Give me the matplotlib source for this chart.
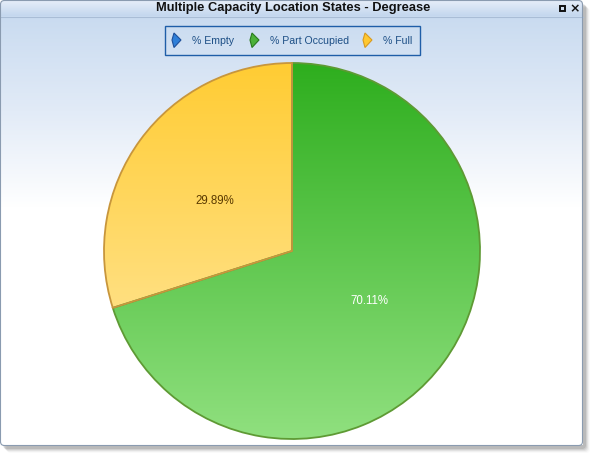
import matplotlib
matplotlib.use("Agg")
import numpy as np
import matplotlib.pyplot as plt
from matplotlib.patches import Rectangle, FancyBboxPatch, Polygon
from matplotlib.colors import LinearSegmentedColormap

# chart data
categories = ["% Empty", "% Part Occupied", "% Full"]
values = [0.0, 70.11, 29.89]
title = "Multiple Capacity Location States - Degrease"

W, H = 598, 462
fig = plt.figure(figsize=(W / 100, H / 100), dpi=100)
fig.patch.set_facecolor("white")

# background axes in pixel coordinates
bg = fig.add_axes([0, 0, 1, 1])
bg.set_xlim(0, W)
bg.set_ylim(H, 0)
bg.axis("off")

# drop shadow
for i, a in enumerate([0.10, 0.08, 0.06, 0.04, 0.02]):
    bg.add_patch(FancyBboxPatch((3 + i, 4 + i), 583, 445, boxstyle="round,pad=0,rounding_size=4",
                                facecolor="black", edgecolor="none", alpha=a, zorder=0))

# window body gradient
body = np.linspace(0, 1, 200)
body_cmap = LinearSegmentedColormap.from_list("body", ["#c9dbf0", "#e2ebf7", "#ffffff"])
grad = np.ones((446, 2))
grad[:200, :] = np.repeat(body[:, None], 2, axis=1)
frame = FancyBboxPatch((0.5, 0.5), 582, 445, boxstyle="round,pad=0,rounding_size=4",
                       facecolor="none", edgecolor="#8a9bb0", lw=0.8, zorder=3)
bg.add_patch(frame)
bg.imshow(grad, cmap=body_cmap, vmin=0, vmax=1, extent=(0.5, 582.5, 445.5, 16), aspect="auto", zorder=1)
bg.set_xlim(0, W)
bg.set_ylim(H, 0)

# title bar
tb = np.linspace(0, 1, 16)[:, None].repeat(2, axis=1)
tb_cmap = LinearSegmentedColormap.from_list("tb", ["#e6eef9", "#c4d7ee"])
tb_im = bg.imshow(tb, cmap=tb_cmap, extent=(0.5, 582.5, 16, 0.5), aspect="auto", zorder=2)
tb_clip = FancyBboxPatch((0.5, 0.5), 582, 445, boxstyle="round,pad=0,rounding_size=4",
                         transform=bg.transData, facecolor="none", edgecolor="none")
bg.add_patch(tb_clip)
tb_im.set_clip_path(tb_clip)
bg.plot([0.5, 582.5], [16.5, 16.5], color="#a9bdd6", lw=0.8, zorder=2)
bg.text(293, 8, title, ha="center", va="center", fontsize=9.3, fontweight="bold",
        family="Liberation Sans", color="#111111", zorder=4)
bg.add_patch(Rectangle((560, 5.5), 5, 5, facecolor="none", edgecolor="#111111", lw=1.4, zorder=4))
bg.text(575, 8.5, "×", ha="center", va="center", fontsize=9, fontweight="bold", color="#111111", zorder=4)

# legend box
bg.add_patch(Rectangle((164.5, 25.5), 255, 29, facecolor="none", edgecolor="#1f5ea8", lw=1.0, zorder=4))
leg_colors = [("#2f7fd8", "#1e4f9a"), ("#4cb23a", "#2a7a1e"), ("#ffc830", "#d89a20")]
leg_x = [177, 255, 368]
for x, name, (c1, ec) in zip(leg_x, categories, leg_colors):
    diamond = Polygon([(x - 3, 33), (x + 4, 40), (x - 3, 47.5), (x - 5, 40)], closed=True,
                      facecolor=c1, edgecolor=ec, lw=0.8, zorder=5)
    bg.add_patch(diamond)
    bg.text(x + 15, 40.5, name, ha="left", va="center", fontsize=7.6, family="Liberation Sans",
            color="#1d4f86", zorder=5)

# pie axes
cx, cy, r = 292, 251, 188
ax = fig.add_axes([(cx - r) / W, (H - cy - r) / H, 2 * r / W, 2 * r / H])
ax.set_xlim(-1, 1)
ax.set_ylim(-1, 1)
ax.axis("off")

wedges, _ = ax.pie(values, startangle=90, counterclock=False, radius=1,
                   wedgeprops=dict(linewidth=0))

grad_maps = [
    (["#8cc8f5", "#2f7fd8"], "#1e4f9a"),
    (["#90e07f", "#2eae1e"], "#5e9a34"),
    (["#ffeaaa", "#ffcc33"], "#c8963c"),
]
g = np.linspace(0, 1, 256)[:, None].repeat(2, axis=1)
for w, (cols, ec) in zip(wedges, grad_maps):
    w.set_facecolor("none")
    cmap = LinearSegmentedColormap.from_list("w", cols)
    gi = ax.imshow(g, cmap=cmap, extent=(-1, 1, -1, 1), origin="lower", aspect="auto", zorder=1)
    gi.set_clip_path(w)
    w.set_edgecolor(ec)
    w.set_linewidth(1.3)
    w.set_zorder(2)
ax.set_xlim(-1, 1)
ax.set_ylim(-1, 1)

# value labels
label_cols = ["#ffffff", "#ffffff", "#5a3a00"]
start = 90.0
for v, col in zip(values, label_cols):
    if v <= 0:
        continue
    ang = np.deg2rad(start - v / 100 * 360 / 2 + 3.5)
    start -= v / 100 * 360
    ax.text(0.49 * np.cos(ang), 0.49 * np.sin(ang), "%.2f%%" % v, ha="center", va="center",
            fontsize=8.3, family="Liberation Sans", color=col, zorder=3)

fig.savefig("out.png", dpi=100)
